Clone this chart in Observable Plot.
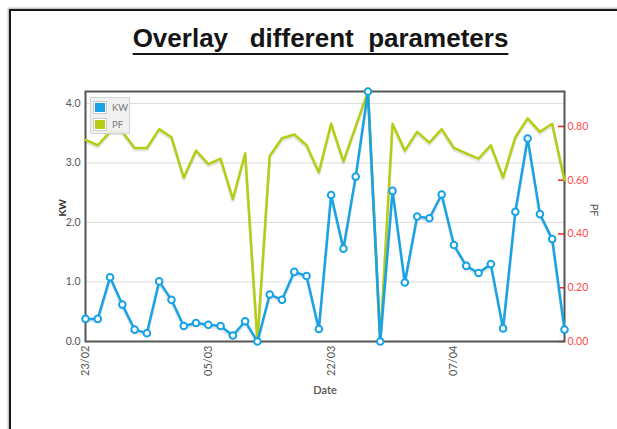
<!DOCTYPE html>
<html>
<head>
<meta charset="utf-8">
<script src="https://cdn.jsdelivr.net/npm/d3@7"></script>
<script src="https://cdn.jsdelivr.net/npm/@observablehq/plot@0.6"></script>
<style>
  html, body { margin: 0; padding: 0; background: #fff; overflow: hidden; }
  #page { position: relative; width: 617px; height: 429px; overflow: hidden; }
  #border { position: absolute; left: 9px; top: 9px; width: 700px; height: 500px;
    border-top: 2px solid #1a1a1a; border-left: 2px solid #1a1a1a; box-shadow: -1px -1px 2px #aaa; }
  #title { position: absolute; left: 320.5px; top: 24px; transform: translateX(-50%);
    font-family: "Liberation Sans", Arial, sans-serif; font-size: 26px; font-weight: bold; line-height: 28px;
    color: #151515; white-space: pre; text-decoration: underline; text-decoration-thickness: 2px;
    text-underline-offset: 6px; text-decoration-skip-ink: none; }
  #chart { position: absolute; left: 0; top: 60px; }
  #legend { position: absolute; left: 90px; top: 97px; width: 40px; height: 37px;
    background: rgba(240,240,240,0.9); border: 1px solid #d4d4d4; box-sizing: border-box;
    font-family: Lato, "DejaVu Sans", sans-serif; font-size: 9.5px; color: #777; }
  .sw { position: absolute; left: 3px; width: 12px; height: 11px; border: 1px solid #fff; outline: 1px solid #ccc; box-sizing: border-box; }
  .lb { position: absolute; left: 21px; line-height: 11px; }
</style>
</head>
<body>
<div id="page">
  <div id="border"></div>
  <div id="title">Overlay   different  parameters</div>
  <div id="chart"></div>
  <div id="legend"></div>
</div>
<script>
// ---- data ----
const seriesNames = ["KW", "PF"];
const kwValues = [0.38, 0.38, 1.08, 0.62, 0.20, 0.14, 1.01, 0.70, 0.26, 0.31,
                  0.28, 0.26, 0.10, 0.34, 0.00, 0.79, 0.70, 1.17, 1.10, 0.21,
                  2.46, 1.56, 2.77, 4.20, 0.00, 2.53, 0.99, 2.10, 2.07, 2.47,
                  1.62, 1.27, 1.15, 1.30, 0.22, 2.18, 3.41, 2.14, 1.72, 0.20];
const pfValues = [0.75, 0.73, 0.78, 0.78, 0.72, 0.72, 0.79, 0.76, 0.61, 0.71,
                  0.66, 0.68, 0.53, 0.70, 0.00, 0.69, 0.756, 0.77, 0.73, 0.63,
                  0.81, 0.67, 0.80, 0.93, 0.00, 0.81, 0.71, 0.78, 0.74, 0.79,
                  0.72, 0.70, 0.68, 0.73, 0.61, 0.76, 0.83, 0.78, 0.81, 0.60];
const xTickIndex = [0, 10, 20, 30];
const xTickLabels = ["23/02", "05/03", "22/03", "07/04"];
const kwTicks = [0, 1, 2, 3, 4];
const pfTicks = [0, 0.2, 0.4, 0.6, 0.8];
const kwDomain = [0, 4.2];
const pfDomain = [0, 0.93];

// ---- chart ----
const blue = "#17a3e6";
const green = "#b5cd12";
const k = kwDomain[1] / pfDomain[1];
const data = kwValues.map((v, i) => ({i, kw: v, pf: pfValues[i]}));

const chart = Plot.plot({
  width: 617,
  height: 369,
  marginLeft: 85,
  marginRight: 53,
  marginTop: 31,
  marginBottom: 88,
  x: {domain: [0, kwValues.length - 1], axis: null},
  y: {domain: kwDomain, axis: null},
  style: {fontFamily: "Lato, 'DejaVu Sans', sans-serif", background: "transparent", overflow: "visible"},
  marks: [
    Plot.gridY(kwTicks.filter(d => d > 0), {stroke: "#dcdcdc", strokeOpacity: 1, strokeWidth: 1}),
    Plot.axisY(kwTicks, {anchor: "left", tickSize: 0, tickPadding: 5, fontSize: 10.5, color: "#555",
      tickFormat: d => d.toFixed(1), label: null}),
    Plot.axisX(xTickIndex, {anchor: "bottom", tickSize: 0, tickPadding: 4, tickRotate: -90, fontSize: 11,
      color: "#555", tickFormat: d => xTickLabels[xTickIndex.indexOf(d)], label: null}),
    Plot.axisY(pfTicks.map(v => v * k), {anchor: "right", tickSize: 7, dx: -7, stroke: "#ff2020",
      strokeWidth: 1.5, strokeOpacity: 1, tickFormat: () => "", label: null}),
    Plot.axisY(pfTicks.map(v => v * k), {anchor: "right", tickSize: 0, tickPadding: 3, fontSize: 10.5,
      color: "#ff4a4a", tickFormat: d => (d / k).toFixed(2), label: null}),
    Plot.frame({stroke: "#555", strokeWidth: 2}),
    Plot.line(data, {x: "i", y: d => d.pf * k, stroke: "rgba(0,0,0,0.10)", strokeWidth: 3, dy: 2}),
    Plot.line(data, {x: "i", y: d => d.pf * k, stroke: green, strokeWidth: 2.5}),
    Plot.line(data, {x: "i", y: "kw", stroke: "rgba(0,0,0,0.10)", strokeWidth: 3, dy: 2}),
    Plot.line(data, {x: "i", y: "kw", stroke: blue, strokeWidth: 2.5}),
    Plot.dot(data, {x: "i", y: "kw", r: 3.3, fill: "white", stroke: blue, strokeWidth: 2}),
    Plot.text([seriesNames[0]], {frameAnchor: "left", dx: -23, rotate: -90, fontSize: 10, fontWeight: "bold", fill: "#333"}),
    Plot.text([seriesNames[1]], {frameAnchor: "right", dx: 29, rotate: 90, fontSize: 11, fill: "#555"}),
    Plot.text(["Date"], {frameAnchor: "bottom", dy: 52, fontSize: 11, fill: "#555", fontWeight: 600})
  ]
});
document.getElementById("chart").appendChild(chart);

// legend (HTML overlay inside the plot area)
const legend = document.getElementById("legend");
[[seriesNames[0], blue], [seriesNames[1], green]].forEach(([name, color], j) => {
  const sw = document.createElement("div");
  sw.className = "sw";
  sw.style.top = (4 + j * 16.5) + "px";
  sw.style.background = color;
  legend.appendChild(sw);
  const lb = document.createElement("div");
  lb.className = "lb";
  lb.style.top = (4 + j * 16.5) + "px";
  lb.textContent = name;
  legend.appendChild(lb);
});
</script>
</body>
</html>
